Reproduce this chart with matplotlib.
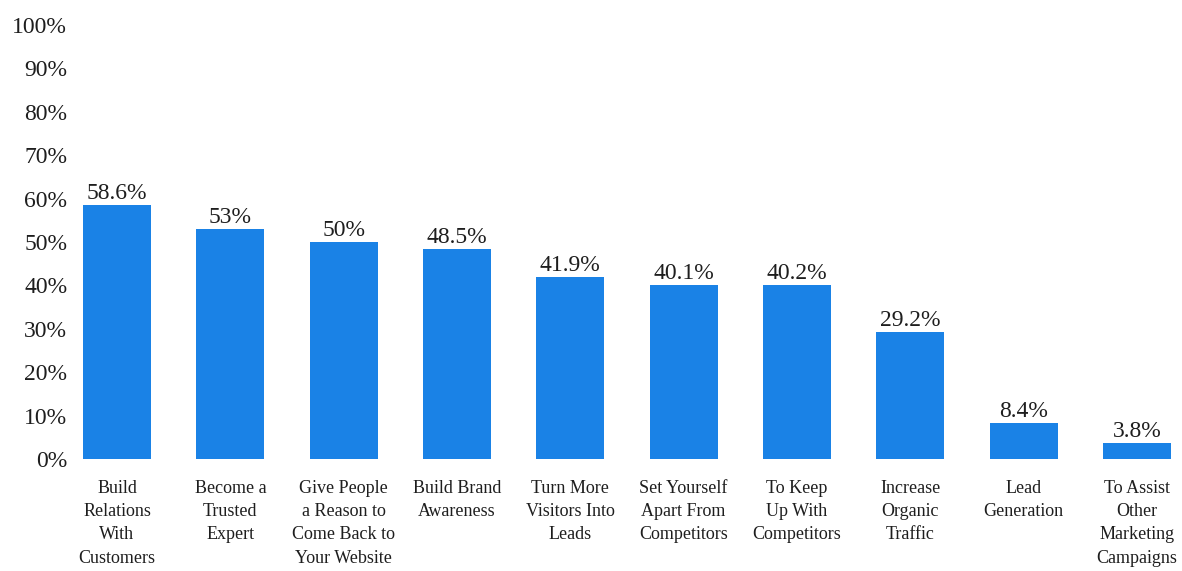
import matplotlib
matplotlib.use('Agg')
from matplotlib import pyplot as plt
from matplotlib.ticker import FuncFormatter

categories = [
    'Build\nRelations\nWith\nCustomers',
    'Become a\nTrusted\nExpert',
    'Give People\na Reason to\nCome Back to\nYour Website',
    'Build Brand\nAwareness',
    'Turn More\nVisitors Into\nLeads',
    'Set Yourself\nApart From\nCompetitors',
    'To Keep\nUp With\nCompetitors',
    'Increase\nOrganic\nTraffic',
    'Lead\nGeneration',
    'To Assist\nOther\nMarketing\nCampaigns',
]
values = [58.6, 53, 50, 48.5, 41.9, 40.1, 40.2, 29.2, 8.4, 3.8]
value_labels = ['58.6%', '53%', '50%', '48.5%', '41.9%', '40.1%', '40.2%', '29.2%', '8.4%', '3.8%']
yticks = [0, 10, 20, 30, 40, 50, 60, 70, 80, 90, 100]

plt.rcParams['font.family'] = ['Liberation Serif', 'DejaVu Serif']

fig = plt.figure(figsize=(11.82, 5.71), dpi=100)
ax = fig.add_axes([70 / 1182, 1 - 459 / 571, 1110 / 1182, (459 - 25) / 571])

x = list(range(len(values)))
bars = ax.bar(x, values, width=0.6, color='#1a82e6')

for b, lab in zip(bars, value_labels):
    ax.text(b.get_x() + b.get_width() / 2, b.get_height() + 0.2, lab,
            ha='center', va='bottom', fontsize=17, color='#1e1e1e')

ax.set_xlim(-0.415, 9.38)
ax.set_ylim(0, 100)
ax.set_yticks(yticks)
ax.yaxis.set_major_formatter(FuncFormatter(lambda v, p: '%d%%' % v))
ax.set_xticks(x)
ax.set_xticklabels(categories, fontsize=13, linespacing=1.48, color='#1e1e1e')
ax.tick_params(axis='x', length=0, pad=15)
ax.tick_params(axis='y', length=0, pad=2, labelsize=17, labelcolor='#1e1e1e')

for s in ax.spines.values():
    s.set_visible(False)

fig.savefig('out.png', dpi=100)
